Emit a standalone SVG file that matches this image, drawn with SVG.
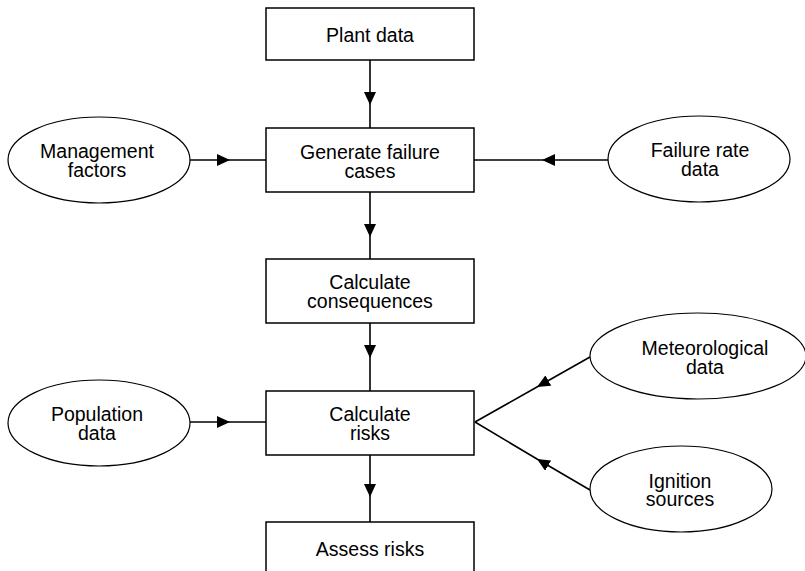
<svg xmlns="http://www.w3.org/2000/svg" width="805" height="571" viewBox="0 0 805 571">
<defs>
<style>
.box{fill:#fff;stroke:#000;stroke-width:1.5}
.ell{fill:#fff;stroke:#000;stroke-width:1.2}
.t{font-family:"Liberation Sans",Arial,sans-serif;font-size:19.5px;fill:#000;text-anchor:middle}
.c{fill:none;stroke:#000;stroke-width:1.6;marker-mid:url(#ah)}
</style>
<marker id="ah" viewBox="0 0 13 12" refX="13" refY="6" markerWidth="13" markerHeight="12" markerUnits="userSpaceOnUse" orient="auto">
<path d="M0,0 L13,6 L0,12 Z" fill="#000"/>
</marker>
</defs>
<rect width="805" height="571" fill="#fff"/>
<g id="connectors">
<path class="c" d="M370,60 L370,105 L370,128"/>
<path class="c" d="M370,192 L370,237 L370,259"/>
<path class="c" d="M370,323 L370,358 L370,391"/>
<path class="c" d="M370,455 L370,497 L370,522"/>
<path class="c" d="M190,160 L230,160 L266,160"/>
<path class="c" d="M608,160 L542,160 L474,160"/>
<path class="c" d="M190,422 L230,422 L266,422"/>
<path class="c" d="M590,357 L537,387 L475,422"/>
<path class="c" d="M590,490 L537,459 L475,422"/>
</g>
<g id="plant-data"><rect class="box" x="266" y="8" width="208" height="52"/><text class="t" x="370" y="42">Plant data</text></g>
<g id="generate-failure-cases"><rect class="box" x="266" y="128" width="208" height="64"/><text class="t" x="370" y="158.5">Generate failure</text><text class="t" x="370" y="177.5">cases</text></g>
<g id="calculate-consequences"><rect class="box" x="266" y="259" width="208" height="64"/><text class="t" x="370" y="288.5">Calculate</text><text class="t" x="370" y="307.5">consequences</text></g>
<g id="calculate-risks"><rect class="box" x="266" y="391" width="208" height="64"/><text class="t" x="370" y="420.5">Calculate</text><text class="t" x="370" y="439.5">risks</text></g>
<g id="assess-risks"><rect class="box" x="266" y="522" width="208" height="60"/><text class="t" x="370" y="556">Assess risks</text></g>
<g id="management-factors"><ellipse class="ell" cx="99" cy="160" rx="91" ry="43"/><text class="t" x="97" y="157.5">Management</text><text class="t" x="97" y="176.5">factors</text></g>
<g id="failure-rate-data"><ellipse class="ell" cx="699" cy="159" rx="91" ry="43"/><text class="t" x="700" y="156.5">Failure rate</text><text class="t" x="700" y="175.5">data</text></g>
<g id="population-data"><ellipse class="ell" cx="99" cy="423" rx="91" ry="43"/><text class="t" x="97" y="420.5">Population</text><text class="t" x="97" y="439.5">data</text></g>
<g id="meteorological-data"><ellipse class="ell" cx="698" cy="356" rx="108" ry="43"/><text class="t" x="705" y="354.5">Meteorological</text><text class="t" x="705" y="373.5">data</text></g>
<g id="ignition-sources"><ellipse class="ell" cx="681" cy="489" rx="91" ry="43"/><text class="t" x="680" y="487.5">Ignition</text><text class="t" x="680" y="505.5">sources</text></g>
</svg>
